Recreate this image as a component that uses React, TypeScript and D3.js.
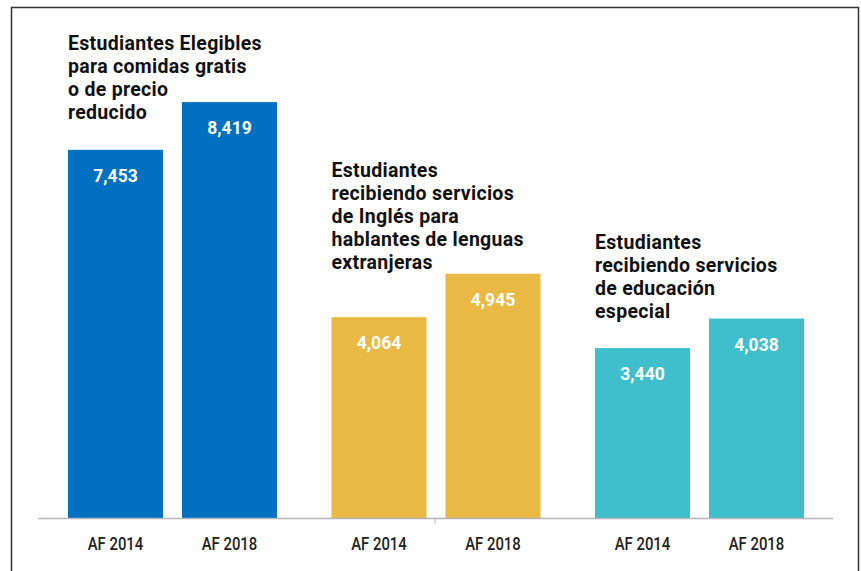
import React from "react";
import * as d3 from "d3";

const groups = ["lunch", "ell", "sped"];
const years = ["AF 2014", "AF 2018"];
const lunchValues = [7453, 8419];
const ellValues = [4064, 4945];
const spedValues = [3440, 4038];
const groupTitles = [
  ["Estudiantes Elegibles", "para comidas gratis", "o de precio", "reducido"],
  ["Estudiantes", "recibiendo servicios", "de Inglés para", "hablantes de lenguas", "extranjeras"],
  ["Estudiantes", "recibiendo servicios", "de educación", "especial"],
];
const groupColors = ["#0071C1", "#E9B944", "#3FBFCC"];

const W = 861;
const H = 571;

export default function App() {
  const seriesValues = [lunchValues, ellValues, spedValues];
  const baseY = 518;
  const y = d3.scaleLinear().domain([0, 10000]).range([baseY, baseY - 494]);
  const x0 = d3.scaleBand().domain(groups).range([40.75, 831.25]).paddingInner(0).paddingOuter(0);
  const fmt = d3.format(",");
  const barW = 95;
  const gap = 19;
  const titleTop = [50, 177, 249];

  return (
    <svg width={W} height={H} style={{ position: "absolute", left: 0, top: 0 }}>
      <rect x={0} y={0} width={W} height={H} fill="#fff" />
      <rect x={11.5} y={7.5} width={847} height={600} fill="none" stroke="#333" strokeWidth={1.5} />
      {groups.map((g, gi) => {
        const gx = (x0(g) as number) + (x0.bandwidth() - (2 * barW + gap)) / 2;
        return (
          <g key={g}>
            {seriesValues[gi].map((v, i) => {
              const bx = gx + i * (barW + gap);
              return (
                <g key={i}>
                  <rect x={bx} y={y(v)} width={barW} height={baseY - y(v)} fill={groupColors[gi]} />
                  <text
                    x={bx + barW / 2}
                    y={y(v) + 32}
                    textAnchor="middle"
                    fill="#fff"
                    fontFamily="Roboto, 'Open Sans', sans-serif"
                    fontWeight={700}
                    fontSize={17.5}
                  >
                    {fmt(v)}
                  </text>
                  <text
                    transform={`translate(${bx + barW / 2},550) scale(0.85,1)`}
                    textAnchor="middle"
                    fill="#222"
                    fontFamily="Roboto, 'Open Sans', sans-serif"
                    fontWeight={500}
                    fontSize={17.5}
                  >
                    {years[i]}
                  </text>
                </g>
              );
            })}
            {groupTitles[gi].map((line, li) => (
              <text
                key={li}
                x={gx}
                y={titleTop[gi] + li * 23}
                fill="#111"
                fontFamily="Roboto, 'Open Sans', sans-serif"
                fontWeight={700}
                fontSize={19.5}
                letterSpacing={0.3}
              >
                {line}
              </text>
            ))}
          </g>
        );
      })}
      <line x1={38} x2={833} y1={baseY + 0.5} y2={baseY + 0.5} stroke="#b4b4bc" strokeWidth={1.5} />
      <line x1={435} x2={435} y1={baseY} y2={baseY + 6} stroke="#b4b4bc" strokeWidth={1} />
    </svg>
  );
}
